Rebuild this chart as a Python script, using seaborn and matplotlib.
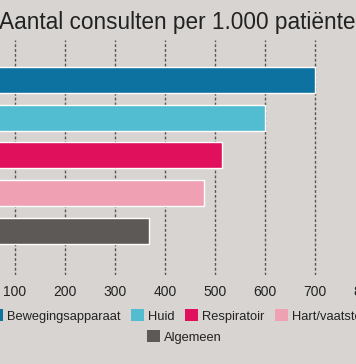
import matplotlib
matplotlib.use('Agg')
import matplotlib.pyplot as plt
from matplotlib.patches import Patch
import seaborn as sns
import pandas as pd

# data
categories = ['Bewegingsapparaat', 'Huid', 'Respiratoir', 'Hart/vaatstelsel', 'Algemeen']
values = [700, 600, 513, 478, 368]
colors = ['#0e72a0', '#52bdd0', '#e1105c', '#f0a0b3', '#5d5956']
x_ticks = [0, 100, 200, 300, 400, 500, 600, 700, 800]
title = 'Aantal consulten per 1.000 patiënten'

BG = '#d8d4d1'
W, H = 356, 364

sns.set_theme(style='white')
plt.rcParams['font.family'] = ['Liberation Sans', 'DejaVu Sans']

df = pd.DataFrame({'categorie': categories, 'consulten': values})

fig = plt.figure(figsize=(W / 100, H / 100), dpi=100, facecolor=BG)
# plot area runs past the left/right edge (the reference is a crop)
ax = fig.add_axes([-35 / W, 1 - 275 / H, 400 / W, 235 / H])
ax.set_facecolor(BG)

sns.barplot(data=df, x='consulten', y='categorie', hue='categorie',
            order=categories, hue_order=categories, palette=colors,
            dodge=False, legend=False, width=0.69, saturation=1, ax=ax)

ax.set_xlim(0, 800)
ax.set_ylim(5.17, -1.06)
ax.set_xticks(x_ticks)
ax.set_xlabel('')
ax.set_ylabel('')
ax.tick_params(axis='y', left=False, labelleft=False)
ax.tick_params(axis='x', length=0, pad=7, labelsize=10, labelcolor='#222222')
ax.set_axisbelow(True)
ax.xaxis.grid(True, linestyle=(0, (2, 1.5)), color='#555555', linewidth=1)
for s in ax.spines.values():
    s.set_visible(False)

fig.text(-1 / W, 1 - 29 / H, title, fontsize=16.3, ha='left', va='baseline',
         color='#222222')

handles = [Patch(facecolor=c, edgecolor='none', label=l)
           for c, l in zip(colors, categories)]
leg_kw = dict(loc='center left', frameon=False, fontsize=9.3, borderpad=0,
              borderaxespad=0, handlelength=1.0, handleheight=1.0,
              handletextpad=0.35, columnspacing=0.78, labelcolor='#222222')
fig.legend(handles=handles[:4], ncol=4,
           bbox_to_anchor=(-10 / W, 1 - 316 / H), **leg_kw)
fig.legend(handles=handles[4:], ncol=1,
           bbox_to_anchor=(147 / W, 1 - 337 / H), **leg_kw)

fig.savefig('out.png', dpi=100, facecolor=BG)
